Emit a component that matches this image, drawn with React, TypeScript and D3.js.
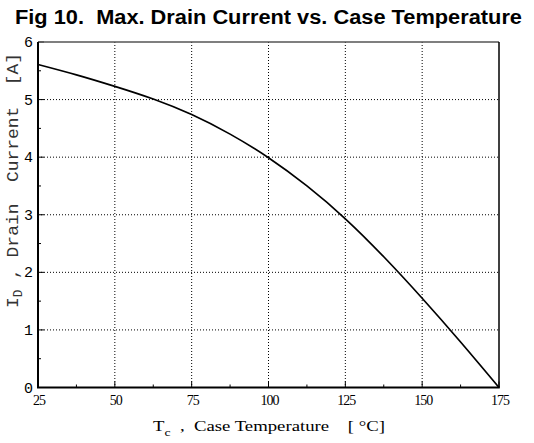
import React from "react";
import * as d3 from "d3";

const caseTemp = [25, 37.5, 50, 62.5, 75, 87.5, 100, 112.5, 125, 137.5, 150, 162.5, 175];
const drainCurrent = [5.61, 5.43, 5.23, 5.01, 4.74, 4.4, 3.99, 3.5, 2.93, 2.27, 1.55, 0.79, 0];
const xTicks = [25, 50, 75, 100, 125, 150, 175];
const xMinor = [37.5, 62.5, 87.5, 112.5, 137.5, 162.5];
const yTicks = [0, 1, 2, 3, 4, 5, 6];
const yMinor = [0.5, 1.5, 2.5, 3.5, 4.5, 5.5];

const W = 534;
const H = 443;
const left = 38;
const right = 499;
const top = 42;
const bottom = 387.5;

export default function App() {
  const x = d3.scaleLinear().domain([25, 175]).range([left, right]);
  const y = d3.scaleLinear().domain([0, 6]).range([bottom, top]);
  const data = caseTemp.map((t, i) => [t, drainCurrent[i]] as [number, number]);
  const line = d3
    .line<[number, number]>()
    .x((d) => x(d[0]))
    .y((d) => y(d[1]))
    .curve(d3.curveNatural);

  return (
    <svg
      width={W}
      height={H}
      style={{ position: "absolute", left: 0, top: 0, background: "#fff" }}
    >
      <rect x={0} y={0} width={W} height={H} fill="#fff" />
      <text
        x={15}
        y={23.5}
        fontFamily="Liberation Sans, Arial, sans-serif"
        fontWeight="bold"
        fontSize={19.5}
        fill="#000"
        textLength={507}
        lengthAdjust="spacingAndGlyphs"
        style={{ whiteSpace: "pre" }}
      >
        Fig 10.  Max. Drain Current vs. Case Temperature
      </text>

      {/* grid */}
      {xTicks.slice(1, -1).map((t) => (
        <line
          key={"gx" + t}
          x1={x(t)}
          x2={x(t)}
          y1={top}
          y2={bottom}
          stroke="#000"
          strokeWidth={1}
          strokeDasharray="1,2"
        />
      ))}
      {yTicks.slice(1, -1).map((v) => (
        <line
          key={"gy" + v}
          x1={left}
          x2={right}
          y1={y(v)}
          y2={y(v)}
          stroke="#000"
          strokeWidth={1}
          strokeDasharray="1,2"
        />
      ))}

      {/* ticks */}
      {xTicks.map((t) => (
        <line key={"xt" + t} x1={x(t)} x2={x(t)} y1={bottom} y2={bottom - 6} stroke="#000" strokeWidth={1} />
      ))}
      {xMinor.map((t) => (
        <line key={"xm" + t} x1={x(t)} x2={x(t)} y1={bottom} y2={bottom - 3} stroke="#000" strokeWidth={1} />
      ))}
      {yTicks.map((v) => (
        <line key={"yt" + v} x1={left} x2={left + 6} y1={y(v)} y2={y(v)} stroke="#000" strokeWidth={1} />
      ))}
      {yMinor.map((v) => (
        <line key={"ym" + v} x1={left} x2={left + 3} y1={y(v)} y2={y(v)} stroke="#000" strokeWidth={1} />
      ))}

      {/* frame */}
      <line x1={left} x2={right} y1={top} y2={top} stroke="#555" strokeWidth={1.5} />
      <line x1={right} x2={right} y1={top} y2={bottom} stroke="#000" strokeWidth={1.5} />
      <line x1={left} x2={left} y1={top} y2={bottom} stroke="#000" strokeWidth={2} />
      <line x1={left - 1} x2={right + 0.75} y1={bottom} y2={bottom} stroke="#000" strokeWidth={2} />

      {/* curve */}
      <path d={line(data) || ""} fill="none" stroke="#000" strokeWidth={1.7} />

      {/* tick labels */}
      {xTicks.map((t) => (
        <text
          key={"xl" + t}
          x={x(t) + 1}
          y={405}
          textAnchor="middle"
          fontFamily="Liberation Serif, Times New Roman, serif"
          fontSize={14}
          letterSpacing={-1}
          fill="#000"
        >
          {t}
        </text>
      ))}
      {yTicks.map((v) => (
        <text
          key={"yl" + v}
          x={33}
          y={y(v) + 5}
          textAnchor="end"
          fontFamily="Liberation Mono, Courier New, monospace"
          fontSize={15}
          fill="#000"
        >
          {v}
        </text>
      ))}

      {/* axis titles */}
      <text
        x={153}
        y={431}
        fontFamily="Liberation Serif, Times New Roman, serif"
        fontSize={15}
        fill="#000"
        textLength={232}
        lengthAdjust="spacingAndGlyphs"
        style={{ whiteSpace: "pre" }}
      >
        <tspan>T</tspan>
        <tspan fontSize={11} dy={5}>c</tspan>
        <tspan dy={-5}>{"  ,  Case Temperature    [ \u00B0C]"}</tspan>
      </text>
      <text
        transform="translate(18,308) rotate(-90)"
        x={0}
        y={0}
        fontFamily="Liberation Mono, Courier New, monospace"
        fontSize={17}
        fill="#333"
        textLength={255}
        lengthAdjust="spacingAndGlyphs"
        style={{ whiteSpace: "pre" }}
      >
        <tspan>I</tspan>
        <tspan fontSize={12} dy={4}>D</tspan>
        <tspan dy={-4}>{" , Drain  Current  [A]"}</tspan>
      </text>
    </svg>
  );
}
